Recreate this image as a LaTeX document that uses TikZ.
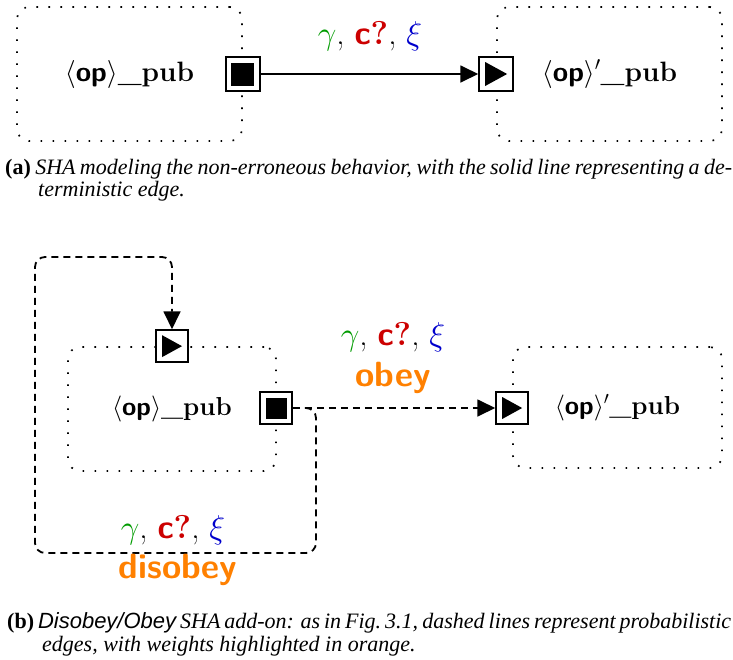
\documentclass[tikz,border=0pt]{standalone}
\usepackage{fix-cm}
\usepackage{fontspec}
\usetikzlibrary{arrows.meta}
\newfontfamily\capserif{Liberation Serif}
\newfontfamily\capsans{Liberation Sans}
\definecolor{lblgreen}{RGB}{0,155,0}
\definecolor{lblred}{RGB}{204,0,0}
\definecolor{lblblue}{RGB}{0,0,204}
\definecolor{weightorange}{RGB}{255,128,0}

\newcommand{\opname}{$\langle$\textsf{\bfseries op}$\rangle$\textbf{\_pub}}
\newcommand{\opprimename}{$\langle$\textsf{\bfseries op}$\rangle'$\textbf{\_pub}}
\newcommand{\guardlbl}{$\textcolor{lblgreen}{\gamma}$, \textcolor{lblred}{\textsf{\bfseries c}\textbf{?}}, $\textcolor{lblblue}{\xi}$}

\tikzset{
  locbox/.style={draw, line width=1.7pt, dash pattern=on 1.7pt off 10.3pt,
    rounded corners=12pt, inner sep=0pt},
  exitport/.style={draw, line width=1.8pt, fill=white, inner sep=0pt,
    minimum size=#1, rectangle,
    path picture={\fill[black] ([shift={(5.5pt,5.5pt)}]path picture bounding box.south west)
      rectangle ([shift={(-5.5pt,-5.5pt)}]path picture bounding box.north east);}},
  entryport/.style={draw, line width=1.8pt, fill=white, inner sep=0pt,
    minimum size=#1, rectangle,
    path picture={\fill[black] ([shift={(6pt,5pt)}]path picture bounding box.south west)
      -- ([shift={(6pt,-5pt)}]path picture bounding box.north west)
      -- ([shift={(-6pt,0pt)}]path picture bounding box.east) -- cycle;}},
  edgeline/.style={line width=1.8pt, -{Triangle[length=18pt,width=17pt]}},
  probedge/.style={edgeline, dash pattern=on 7pt off 5pt},
  guard/.style={font=\fontsize{33}{38}\selectfont, inner sep=0pt},
  weight/.style={font=\fontsize{35}{40}\selectfont\sffamily\bfseries,
    text=weightorange, inner sep=0pt},
  capline/.style={anchor=base west, inner sep=0pt, font=\fontsize{22}{26}\selectfont\capserif}
}

\begin{document}
\begin{tikzpicture}[x=1pt, y=-1pt]
  \useasboundingbox (0,0) rectangle (733,659);

  % ---- (a) deterministic edge ----
  \node[locbox, font=\fontsize{28}{32}\selectfont, minimum width=225pt, minimum height=134pt] (A) at (129.5,74) {\opname};
  \node[locbox, font=\fontsize{28}{32}\selectfont, minimum width=225pt, minimum height=134pt] (B) at (609.5,74) {\opprimename};
  \node[exitport=34pt] (Aout) at (A.east) {};
  \node[entryport=34pt] (Bin) at (B.west) {};
  \draw[edgeline] (Aout) -- (Bin);
  \node[guard] (gA) at (370,36) {\guardlbl};

  \node[capline] (capa1) at (5,174)
    {\hbox to 727pt{\bfseries (a)\ \mdseries\itshape SHA modeling the non-erroneous behavior, with the solid line representing a de-}};
  \node[capline] (capa2) at (38,196) {\itshape terministic edge.};

  % ---- (b) Disobey/Obey add-on ----
  \node[locbox, font=\fontsize{26}{30}\selectfont, minimum width=208pt, minimum height=124pt] (C) at (172,409) {\opname};
  \node[locbox, font=\fontsize{26}{30}\selectfont, minimum width=209pt, minimum height=121pt] (D) at (617.5,407.5) {\opprimename};
  \node[entryport=32pt] (Cin) at (C.north) {};
  \node[exitport=32pt] (Cout) at (276,408) {};
  \node[entryport=32pt] (Din) at (D.west |- Cout) {};

  \coordinate (loopA) at (316,553);
  \coordinate (loopB) at (35,257);
  \draw[probedge] (Cout) -- (Din);
  \draw[probedge, rounded corners=10pt] (Cout.east) -| (loopA) -| (loopB) -| (Cin.north);

  \node[guard] (gObey) at (393,337) {\guardlbl};
  \node[weight] (wObey) at (393,378) {obey};
  \node[guard] (gDis) at (173,530) {\guardlbl};
  \node[weight] (wDis) at (178,570) {disobey};

  \node[capline] (capb1) at (7,628)
    {\hbox to 724pt{\bfseries (b)\ \mdseries{\capsans\itshape Disobey/Obey} \itshape SHA add-on: as in Fig.~3.1, dashed lines represent probabilistic}};
  \node[capline] (capb2) at (42,651) {\itshape edges, with weights highlighted in orange.};
\end{tikzpicture}
\end{document}
